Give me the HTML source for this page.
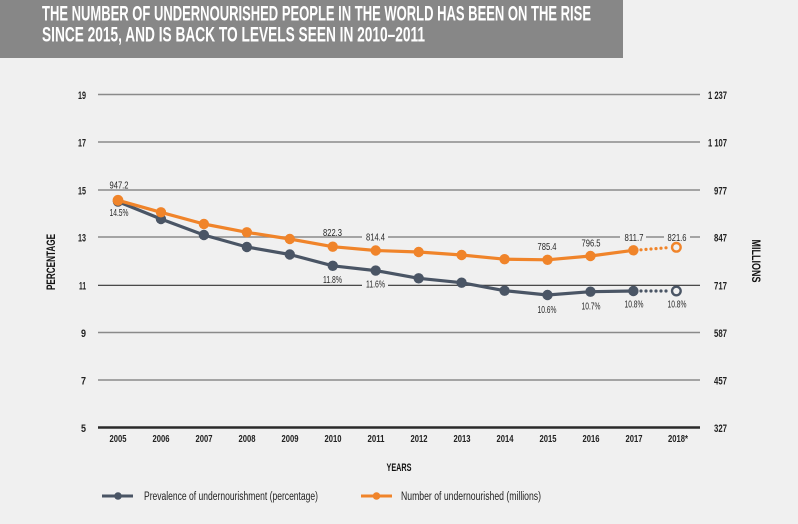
<!DOCTYPE html>
<html><head><meta charset="utf-8"><style>
html,body{margin:0;padding:0;background:#f0f0f0;}
svg{display:block;}
text{font-family:"Liberation Sans Narrow","Liberation Sans",sans-serif;}
</style></head><body>
<svg width="798" height="524" viewBox="0 0 798 524" xmlns="http://www.w3.org/2000/svg">
<rect x="0" y="0" width="798" height="524" fill="#f0f0f0"/>
<rect x="0" y="0" width="623" height="58" fill="#878787"/>
<text x="42" y="20.5" font-size="21.5" font-weight="bold" fill="#fff" textLength="549" lengthAdjust="spacingAndGlyphs">THE NUMBER OF UNDERNOURISHED PEOPLE IN THE WORLD HAS BEEN ON THE RISE</text>
<text x="42" y="41.5" font-size="21.5" font-weight="bold" fill="#fff" textLength="383" lengthAdjust="spacingAndGlyphs">SINCE 2015, AND IS BACK TO LEVELS SEEN IN 2010–2011</text>

<!-- gridlines -->
<g stroke="#8a8a8a" stroke-width="1.5">
<line x1="98" y1="94.5" x2="700" y2="94.5"/>
<line x1="98" y1="142" x2="700" y2="142"/>
<line x1="98" y1="190" x2="700" y2="190"/>
<line x1="98" y1="237" x2="700" y2="237"/>
<line x1="98" y1="332.5" x2="700" y2="332.5"/>
<line x1="98" y1="380" x2="700" y2="380"/>
</g>
<line x1="98" y1="285.3" x2="700" y2="285.3" stroke="#333" stroke-width="1.2"/>
<line x1="98" y1="427.5" x2="700" y2="427.5" stroke="#2a2a2a" stroke-width="2.5"/>

<!-- gaps -->
<g fill="#f0f0f0">
<rect x="362" y="233" width="26" height="8"/>
<rect x="620" y="233" width="26" height="8"/>
<rect x="664" y="233" width="26" height="8"/>
<rect x="362" y="281" width="26" height="8"/>
</g>

<!-- left ticks -->
<g font-size="11" font-weight="bold" fill="#222" text-anchor="end">
<text x="86" y="99" textLength="8" lengthAdjust="spacingAndGlyphs">19</text>
<text x="86" y="146.5" textLength="8" lengthAdjust="spacingAndGlyphs">17</text>
<text x="86" y="194.5" textLength="8" lengthAdjust="spacingAndGlyphs">15</text>
<text x="86" y="241.5" textLength="8" lengthAdjust="spacingAndGlyphs">13</text>
<text x="86" y="289.5" textLength="7" lengthAdjust="spacingAndGlyphs">11</text>
<text x="86" y="337" textLength="5" lengthAdjust="spacingAndGlyphs">9</text>
<text x="86" y="384.5" textLength="5" lengthAdjust="spacingAndGlyphs">7</text>
<text x="86" y="432" textLength="5" lengthAdjust="spacingAndGlyphs">5</text>
</g>
<!-- right ticks -->
<g font-size="11" font-weight="bold" fill="#222" text-anchor="end">
<text x="727" y="99" textLength="19" lengthAdjust="spacingAndGlyphs">1 237</text>
<text x="727" y="146.5" textLength="19" lengthAdjust="spacingAndGlyphs">1 107</text>
<text x="727" y="194.5" textLength="13" lengthAdjust="spacingAndGlyphs">977</text>
<text x="727" y="241.5" textLength="13" lengthAdjust="spacingAndGlyphs">847</text>
<text x="727" y="289.5" textLength="13" lengthAdjust="spacingAndGlyphs">717</text>
<text x="727" y="337" textLength="13" lengthAdjust="spacingAndGlyphs">587</text>
<text x="727" y="384.5" textLength="13" lengthAdjust="spacingAndGlyphs">457</text>
<text x="727" y="432" textLength="13" lengthAdjust="spacingAndGlyphs">327</text>
</g>

<text transform="translate(55,262) rotate(-90)" font-size="12" font-weight="bold" fill="#111" text-anchor="middle" textLength="56" lengthAdjust="spacingAndGlyphs">PERCENTAGE</text>
<text transform="translate(752,261) rotate(90)" font-size="12" font-weight="bold" fill="#111" text-anchor="middle" textLength="43" lengthAdjust="spacingAndGlyphs">MILLIONS</text>

<!-- years -->
<g font-size="10.5" font-weight="bold" fill="#222" text-anchor="middle">
<text x="118" y="442" textLength="17" lengthAdjust="spacingAndGlyphs">2005</text>
<text x="161" y="442" textLength="17" lengthAdjust="spacingAndGlyphs">2006</text>
<text x="204" y="442" textLength="17" lengthAdjust="spacingAndGlyphs">2007</text>
<text x="247" y="442" textLength="17" lengthAdjust="spacingAndGlyphs">2008</text>
<text x="290" y="442" textLength="17" lengthAdjust="spacingAndGlyphs">2009</text>
<text x="333" y="442" textLength="17" lengthAdjust="spacingAndGlyphs">2010</text>
<text x="376" y="442" textLength="17" lengthAdjust="spacingAndGlyphs">2011</text>
<text x="419" y="442" textLength="17" lengthAdjust="spacingAndGlyphs">2012</text>
<text x="462" y="442" textLength="17" lengthAdjust="spacingAndGlyphs">2013</text>
<text x="505" y="442" textLength="17" lengthAdjust="spacingAndGlyphs">2014</text>
<text x="548" y="442" textLength="17" lengthAdjust="spacingAndGlyphs">2015</text>
<text x="591" y="442" textLength="17" lengthAdjust="spacingAndGlyphs">2016</text>
<text x="634" y="442" textLength="17" lengthAdjust="spacingAndGlyphs">2017</text>
<text x="678" y="442" textLength="20" lengthAdjust="spacingAndGlyphs">2018*</text>
</g>
<text x="399" y="471" font-size="11" font-weight="bold" fill="#111" text-anchor="middle" textLength="25" lengthAdjust="spacingAndGlyphs">YEARS</text>

<!-- series: gray -->
<polyline fill="none" stroke="#4a5565" stroke-width="3.2" stroke-linejoin="round" points="118,201.6 160.95,219 203.9,235 246.85,247 289.8,254.5 332.75,265.8 375.7,270.6 418.65,278.3 461.6,282.7 504.55,290.7 547.5,295 590.45,291.7 633.4,291"/>
<g fill="#4a5565">
<circle cx="160.95" cy="219" r="5.2"/><circle cx="203.9" cy="235" r="5.2"/><circle cx="246.85" cy="247" r="5.2"/><circle cx="289.8" cy="254.5" r="5.2"/><circle cx="332.75" cy="265.8" r="5.2"/><circle cx="375.7" cy="270.6" r="5.2"/><circle cx="418.65" cy="278.3" r="5.2"/><circle cx="461.6" cy="282.7" r="5.2"/><circle cx="504.55" cy="290.7" r="5.2"/><circle cx="547.5" cy="295" r="5.2"/><circle cx="590.45" cy="291.7" r="5.2"/><circle cx="633.4" cy="291" r="5.2"/><circle cx="118" cy="201.6" r="5.2"/>
</g>
<g fill="#4a5565">
<circle cx="641" cy="291" r="1.6"/><circle cx="646" cy="291" r="1.6"/><circle cx="651" cy="291" r="1.6"/><circle cx="656" cy="291" r="1.6"/><circle cx="661" cy="291" r="1.6"/><circle cx="666" cy="291" r="1.6"/>
</g>
<circle cx="676.35" cy="291" r="4.3" fill="#f0f0f0" stroke="#4a5565" stroke-width="2.4"/>

<!-- series: orange -->
<polyline fill="none" stroke="#f0842a" stroke-width="3.2" stroke-linejoin="round" points="118,200.3 160.95,212.3 203.9,224 246.85,232.3 289.8,239 332.75,246.7 375.7,250.5 418.65,252 461.6,255 504.55,259.2 547.5,259.8 590.45,256 633.4,250.3"/>
<g fill="#f0842a">
<circle cx="118" cy="200.3" r="5.4"/><circle cx="160.95" cy="212.3" r="5.2"/><circle cx="203.9" cy="224" r="5.2"/><circle cx="246.85" cy="232.3" r="5.2"/><circle cx="289.8" cy="239" r="5.2"/><circle cx="332.75" cy="246.7" r="5.2"/><circle cx="375.7" cy="250.5" r="5.2"/><circle cx="418.65" cy="252" r="5.2"/><circle cx="461.6" cy="255" r="5.2"/><circle cx="504.55" cy="259.2" r="5.2"/><circle cx="547.5" cy="259.8" r="5.2"/><circle cx="590.45" cy="256" r="5.2"/><circle cx="633.4" cy="250.3" r="5.2"/>
</g>
<g fill="#f0842a">
<circle cx="641" cy="249.8" r="1.6"/><circle cx="646" cy="249.4" r="1.6"/><circle cx="651" cy="249" r="1.6"/><circle cx="656" cy="248.6" r="1.6"/><circle cx="661" cy="248.2" r="1.6"/><circle cx="666" cy="247.8" r="1.6"/>
</g>
<circle cx="676.35" cy="247.3" r="4.3" fill="#f0f0f0" stroke="#f0842a" stroke-width="2.4"/>

<!-- data labels -->
<g font-size="10.5" fill="#262626" text-anchor="middle">
<text x="119" y="188.5" textLength="19" lengthAdjust="spacingAndGlyphs">947.2</text>
<text x="119" y="216" textLength="19" lengthAdjust="spacingAndGlyphs">14.5%</text>
<text x="332.5" y="236" textLength="19" lengthAdjust="spacingAndGlyphs">822.3</text>
<text x="375.5" y="240.5" textLength="19" lengthAdjust="spacingAndGlyphs">814.4</text>
<text x="332.5" y="283" textLength="19" lengthAdjust="spacingAndGlyphs">11.8%</text>
<text x="375.5" y="287.5" textLength="19" lengthAdjust="spacingAndGlyphs">11.6%</text>
<text x="547" y="250" textLength="19" lengthAdjust="spacingAndGlyphs">785.4</text>
<text x="591" y="246.5" textLength="19" lengthAdjust="spacingAndGlyphs">796.5</text>
<text x="634" y="240.8" textLength="19" lengthAdjust="spacingAndGlyphs">811.7</text>
<text x="677" y="240.8" textLength="19" lengthAdjust="spacingAndGlyphs">821.6</text>
<text x="547" y="313" textLength="19" lengthAdjust="spacingAndGlyphs">10.6%</text>
<text x="591" y="309.5" textLength="19" lengthAdjust="spacingAndGlyphs">10.7%</text>
<text x="634" y="307.5" textLength="19" lengthAdjust="spacingAndGlyphs">10.8%</text>
<text x="677" y="307.5" textLength="19" lengthAdjust="spacingAndGlyphs">10.8%</text>
</g>

<!-- legend -->
<line x1="102" y1="496" x2="133" y2="496" stroke="#4a5565" stroke-width="3"/>
<circle cx="118" cy="496" r="3.8" fill="#4a5565"/>
<text x="144" y="500" font-size="11.5" fill="#222" textLength="174" lengthAdjust="spacingAndGlyphs">Prevalence of undernourishment (percentage)</text>
<line x1="361" y1="496" x2="392" y2="496" stroke="#f0842a" stroke-width="3"/>
<circle cx="376.5" cy="496" r="3.8" fill="#f0842a"/>
<text x="401" y="500" font-size="11.5" fill="#222" textLength="140" lengthAdjust="spacingAndGlyphs">Number of undernourished (millions)</text>
</svg>
</body></html>
